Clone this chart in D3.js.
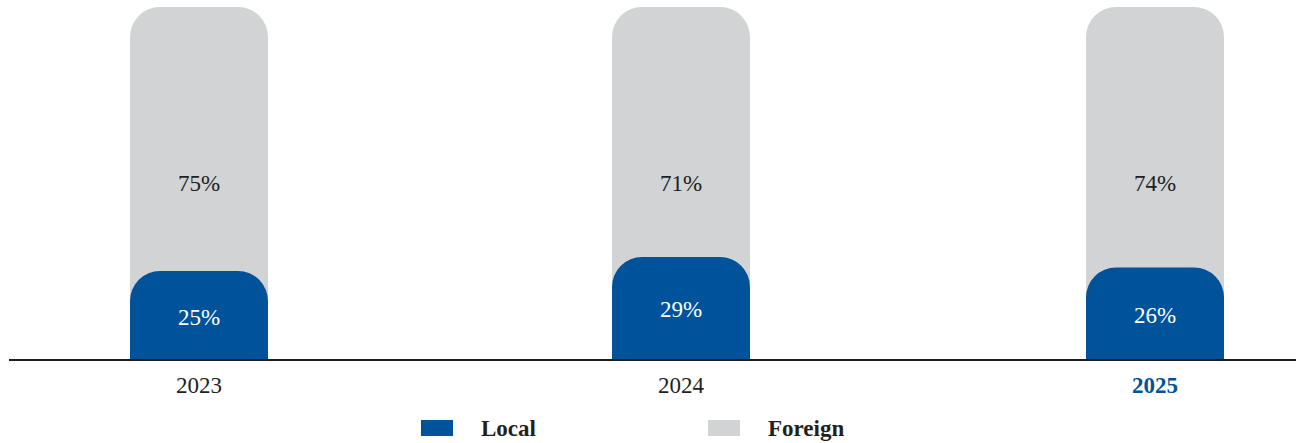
<!DOCTYPE html>
<html>
<head>
<meta charset="utf-8">
<script src="https://cdn.jsdelivr.net/npm/d3@7"></script>
<style>
  html, body { margin: 0; padding: 0; background: #fff; }
  svg { display: block; font-family: "Liberation Serif", "Times New Roman", serif; }
</style>
</head>
<body>
<svg id="chart" width="1296" height="443"></svg>
<script>
// chart data
var years = ["2023", "2024", "2025"];
var local = [25, 29, 26];
var foreign = [75, 71, 74];
var seriesNames = ["Local", "Foreign"];
var colors = ["#00539b", "#d1d3d4"];

var svg = d3.select("#chart");
var width = 1296;
var baseY = 359;
var barW = 138;
var radius = 30;

// bar centres (the source spaces them a little unevenly)
var x = d3.scaleOrdinal()
    .domain(years)
    .range([199, 681, 1155]);

var y = d3.scaleLinear()
    .domain([0, 100])
    .range([baseY, 7]);

// bar with rounded top corners, flat bottom
function topRounded(cx, top, bottom, w, r) {
  var x0 = cx - w / 2, x1 = cx + w / 2;
  r = Math.min(r, (bottom - top));
  return "M" + x0 + "," + bottom +
    "V" + (top + r) +
    "A" + r + "," + r + " 0 0 1 " + (x0 + r) + "," + top +
    "H" + (x1 - r) +
    "A" + r + "," + r + " 0 0 1 " + x1 + "," + (top + r) +
    "V" + bottom + "Z";
}

var rows = years.map(function(yr, i) {
  return { year: yr, local: local[i], foreign: foreign[i] };
});

// foreign (stacked on top of local, drawn full height behind)
svg.selectAll(".foreign")
  .data(rows)
  .enter()
  .append("path")
    .attr("class", "foreign")
    .attr("fill", colors[1])
    .attr("d", function(d) {
      return topRounded(x(d.year), y(d.local + d.foreign), baseY, barW, radius);
    });

svg.selectAll(".local")
  .data(rows)
  .enter()
  .append("path")
    .attr("class", "local")
    .attr("fill", colors[0])
    .attr("d", function(d) {
      return topRounded(x(d.year), y(d.local), baseY, barW, radius);
    });

// value labels
svg.selectAll(".flabel")
  .data(rows)
  .enter()
  .append("text")
    .attr("x", function(d) { return x(d.year); })
    .attr("y", y(50))
    .attr("text-anchor", "middle")
    .attr("dominant-baseline", "central")
    .attr("font-size", 23)
    .attr("fill", "#231f20")
    .text(function(d) { return d.foreign + "%"; });

svg.selectAll(".llabel")
  .data(rows)
  .enter()
  .append("text")
    .attr("x", function(d) { return x(d.year); })
    .attr("y", function(d) { return (y(d.local) + baseY) / 2 + 2; })
    .attr("text-anchor", "middle")
    .attr("dominant-baseline", "central")
    .attr("font-size", 23)
    .attr("fill", "#fff")
    .text(function(d) { return d.local + "%"; });

// baseline
svg.append("line")
  .attr("x1", 9).attr("x2", width)
  .attr("y1", baseY + 1).attr("y2", baseY + 1)
  .attr("stroke", "#231f20")
  .attr("stroke-width", 2.2);

// year labels
svg.selectAll(".year")
  .data(years)
  .enter()
  .append("text")
    .attr("x", function(d) { return x(d); })
    .attr("y", 393)
    .attr("text-anchor", "middle")
    .attr("font-size", 23)
    .attr("font-weight", function(d, i) { return i === years.length - 1 ? "bold" : "normal"; })
    .attr("fill", function(d, i) { return i === years.length - 1 ? colors[0] : "#231f20"; })
    .text(function(d) { return d; });

// legend
var legendX = [421, 708];
var lg = svg.selectAll(".legend")
  .data(seriesNames)
  .enter()
  .append("g")
    .attr("transform", function(d, i) { return "translate(" + legendX[i] + ",420)"; });

lg.append("rect")
  .attr("width", 32)
  .attr("height", 16)
  .attr("fill", function(d, i) { return colors[i]; });

lg.append("text")
  .attr("x", 60)
  .attr("y", 16)
  .attr("font-size", 23)
  .attr("font-weight", "bold")
  .attr("fill", "#231f20")
  .text(function(d) { return d; });
</script>
</body>
</html>
